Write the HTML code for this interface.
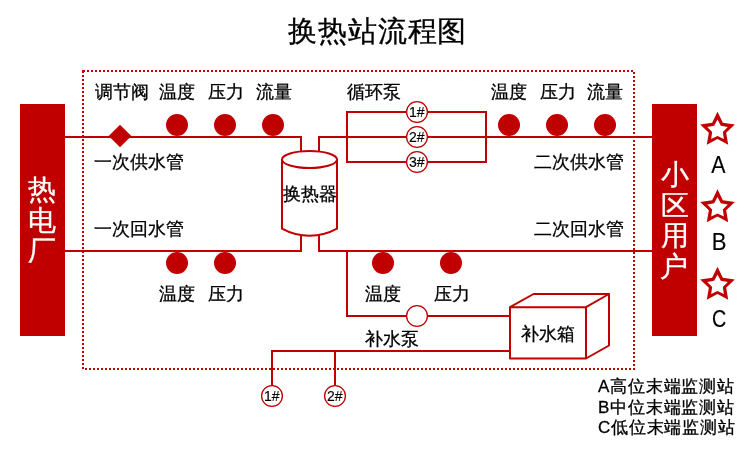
<!DOCTYPE html>
<html><head><meta charset="utf-8">
<style>
html,body{margin:0;padding:0;background:#fff;width:750px;height:451px;overflow:hidden}
svg{display:block;will-change:transform}
text{font-family:"Liberation Sans",sans-serif}
.k text{fill:#000;stroke:#000;stroke-width:0.3}
.w text{fill:#fff;stroke:#fff;stroke-width:0.3}
.n text{fill:#000;stroke:none}
.m text{fill:#000;stroke:#000;stroke-width:0.15}
</style></head><body>
<svg width="750" height="451" viewBox="0 0 750 451">
<rect x="0" y="0" width="750" height="451" fill="#fff"/>
<!-- title -->
<g class="k"><text x="288" y="40.8" font-size="29" letter-spacing="0.9">换热站流程图</text></g>
<!-- dotted frame -->
<rect x="83" y="71" width="551" height="298" fill="none" stroke="#C00000" stroke-width="2" stroke-dasharray="2 2"/>
<!-- bars -->
<rect x="20" y="104" width="45" height="232" fill="#C00000"/>
<rect x="652" y="104" width="45" height="232" fill="#C00000"/>
<g class="w" font-size="28">
<text x="28" y="198.8">热</text>
<text x="28" y="229.8">电</text>
<text x="27.7" y="260.4">厂</text>
<text x="660.6" y="184.4">小</text>
<text x="660.8" y="215.2">区</text>
<text x="660.6" y="245.2">用</text>
<text x="660" y="275.5">户</text>
</g>
<!-- pipes -->
<g fill="none" stroke="#C00000" stroke-width="2">
<polyline points="65,137 301,137 301,151"/>
<polyline points="319,151 319,137 652,137"/>
<polyline points="65,251 301,251 301,235"/>
<polyline points="319,235 319,251 652,251"/>
<rect x="347" y="112" width="139" height="50"/>
<polyline points="347,251 347,316 510,316"/>
<polyline points="272,385 272,351 510,351"/>
<line x1="335" y1="351" x2="335" y2="385"/>
<!-- cylinder -->
<path d="M282,159.5 L282,228.6 A57,57 0 0 0 337,228.6 L337,159.5" fill="#fff"/>
<ellipse cx="309.5" cy="159.5" rx="27.5" ry="8.5" fill="#fff"/>
<!-- box -->
<path d="M510,307.2 L533.5,294 L609,294 L609,345.5 L586,358.5 L510,358.5 Z M510,307.2 L586,307.2 L586,358.5 M586,307.2 L609,294" fill="#fff" stroke-linejoin="round"/>
</g>
<!-- valve diamond -->
<polygon points="120,124.7 131.4,136 120,147.3 108.7,136" fill="#C00000"/>
<!-- sensor dots -->
<g fill="#C00000">
<circle cx="177" cy="125" r="11"/><circle cx="225" cy="125" r="11"/><circle cx="273" cy="125" r="11"/>
<circle cx="509" cy="125" r="11"/><circle cx="557" cy="125" r="11"/><circle cx="605" cy="125" r="11"/>
<circle cx="177" cy="263" r="11"/><circle cx="225" cy="263" r="11"/>
<circle cx="383" cy="263" r="11"/><circle cx="451" cy="263" r="11"/>
</g>
<!-- pump circles -->
<g fill="#fff" stroke="#C00000" stroke-width="1.3">
<circle cx="417" cy="112" r="10.4"/><circle cx="417" cy="137" r="10.4"/><circle cx="417" cy="162" r="10.4"/>
<circle cx="417" cy="316" r="10.4"/>
<circle cx="272" cy="396" r="10.4"/><circle cx="335" cy="396" r="10.4"/>
</g>
<g class="m" font-size="14">
<text x="409" y="117">1#</text>
<text x="409" y="142">2#</text>
<text x="409" y="167">3#</text>
<text x="264" y="401">1#</text>
<text x="327" y="401">2#</text>
</g>
<!-- labels -->
<g class="k" font-size="18">
<text x="95" y="97.8">调节阀</text>
<text x="159.2" y="97.8">温度</text>
<text x="208" y="97.8">压力</text>
<text x="255.6" y="97.8">流量</text>
<text x="346.5" y="97.8">循环泵</text>
<text x="491.2" y="97.8">温度</text>
<text x="540" y="97.8">压力</text>
<text x="587.2" y="97.8">流量</text>
<text x="94.2" y="168.2">一次供水管</text>
<text x="94.2" y="235.2">一次回水管</text>
<text x="534.2" y="168.2">二次供水管</text>
<text x="534.2" y="235.2">二次回水管</text>
<text x="283" y="200">换热器</text>
<text x="159.4" y="299.8">温度</text>
<text x="208.2" y="299.8">压力</text>
<text x="364.8" y="299.8">温度</text>
<text x="433.8" y="299.8">压力</text>
<text x="364.8" y="345.2">补水泵</text>
<text x="521.4" y="340.2">补水箱</text>
</g>
<!-- stars -->
<g fill="#C00000"><path fill-rule="evenodd" d="M717.50,111.80 L722.85,122.64 L734.81,124.38 L726.15,132.81 L728.20,144.72 L717.50,139.10 L706.80,144.72 L708.85,132.81 L700.19,124.38 L712.15,122.64 Z M717.50,119.50 L720.80,125.76 L727.77,126.96 L722.84,132.04 L723.85,139.04 L717.50,135.92 L711.15,139.04 L712.16,132.04 L707.23,126.96 L714.20,125.76 Z"/><path fill-rule="evenodd" d="M717.50,189.30 L722.85,200.14 L734.81,201.88 L726.15,210.31 L728.20,222.22 L717.50,216.60 L706.80,222.22 L708.85,210.31 L700.19,201.88 L712.15,200.14 Z M717.50,197.00 L720.80,203.26 L727.77,204.46 L722.84,209.54 L723.85,216.54 L717.50,213.42 L711.15,216.54 L712.16,209.54 L707.23,204.46 L714.20,203.26 Z"/><path fill-rule="evenodd" d="M717.50,266.80 L722.85,277.64 L734.81,279.38 L726.15,287.81 L728.20,299.72 L717.50,294.10 L706.80,299.72 L708.85,287.81 L700.19,279.38 L712.15,277.64 Z M717.50,274.50 L720.80,280.76 L727.77,281.96 L722.84,287.04 L723.85,294.04 L717.50,290.92 L711.15,294.04 L712.16,287.04 L707.23,281.96 L714.20,280.76 Z"/></g>
<g class="m" font-size="24">
<text transform="translate(711.3,172.8) scale(0.89,1)">A</text>
<text transform="translate(711.8,250) scale(0.92,1)">B</text>
<text transform="translate(712,327) scale(0.82,1)">C</text>
</g>
<g class="k" font-size="17" letter-spacing="0.8">
<text x="598" y="392.2">A高位末端监测站</text>
<text x="598" y="412.7">B中位末端监测站</text>
<text x="598" y="433.2">C低位末端监测站</text>
</g>
</svg>
</body></html>
